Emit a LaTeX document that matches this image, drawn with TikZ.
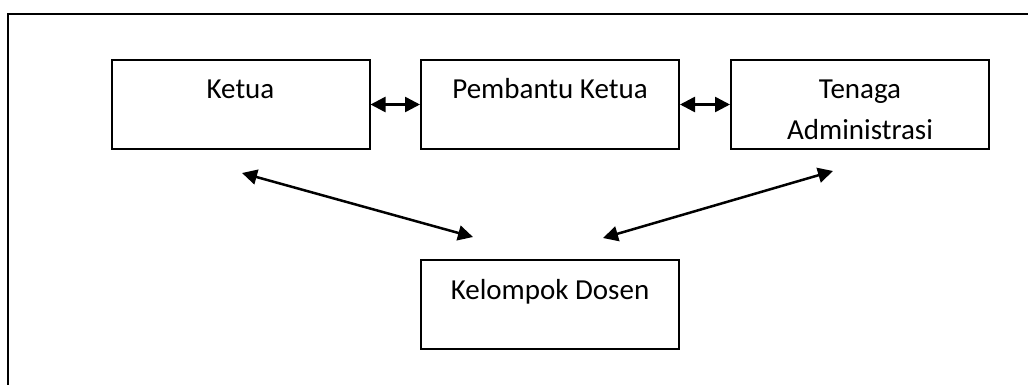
\documentclass[tikz,border=0pt]{standalone}
\usepackage{fontspec}
\setmainfont{Carlito}
\usetikzlibrary{arrows.meta, positioning}

\tikzset{
  kotak/.style={draw, line width=2pt, inner sep=0pt, minimum width=258pt,
    text height=39pt, text depth=50pt, align=center,
    font=\fontsize{29}{41}\selectfont},
  panah/.style={{Triangle[length=15pt,width=15pt]}-{Triangle[length=15pt,width=15pt]},
    line width=2.5pt}
}

\begin{document}
\begin{tikzpicture}[x=1pt, y=-1pt]
		\clip (0,0) rectangle (1028,385);
		
		% Frame
		\draw[line width=2pt] (8,14) rectangle (1040,400);
		
		\node[kotak] (ketua) at (240.5,104.5) {Ketua};
		\node[kotak] (pembantu) at (550,104.5) {Pembantu Ketua};
		\node[kotak, text height=80pt, text depth=9pt] (tenaga) at (860,104.5) {Tenaga\\Administrasi};
		\node[kotak] (dosen) at (550,304.5) {Kelompok Dosen};
		
		\coordinate (ki-atas) at (242,173);
		\coordinate (ki-bawah) at (473,237);
		\coordinate (ka-bawah) at (603,238);
		\coordinate (ka-atas) at (833,171);
		
		\draw[panah] (ketua) -- (pembantu);
		\draw[panah] (pembantu) -- (tenaga);
		\draw[panah] (ki-atas) -- (ki-bawah);
		\draw[panah] (ka-bawah) -- (ka-atas);
	  \end{tikzpicture}
\end{document}
